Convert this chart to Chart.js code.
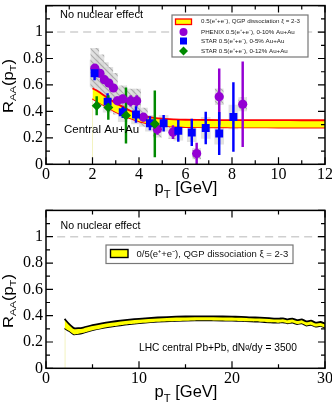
<!DOCTYPE html>
<html><head><meta charset="utf-8">
<script src="https://cdn.jsdelivr.net/npm/chart.js@4/dist/chart.umd.min.js"></script>
<style>
html,body{margin:0;padding:0;background:#fff;}
#wrap{position:relative;width:332px;height:402px;overflow:hidden;background:#fff;}
canvas{position:absolute;left:0;}
#c1{top:0;} #c2{top:200px;}
</style></head><body>
<div id="wrap"><canvas id="c1" width="332" height="200"></canvas><canvas id="c2" width="332" height="202"></canvas></div>
<script>
// ---------- Top panel (RHIC, central Au+Au) ----------
const phenixPt  = [2.1, 2.32, 2.51, 2.7, 2.9, 3.07, 3.3, 3.64, 3.9, 4.19, 4.79, 5.46, 6.48, 7.45, 8.46];
const phenixR   = [0.727, 0.688, 0.64, 0.614, 0.577, 0.48, 0.494, 0.479, 0.479, 0.356, 0.265, 0.243, 0.081, 0.511, 0.454];
const phenixErr = [0.02, 0.02, 0.02, 0.02, 0.02, 0.03, 0.03, 0.04, 0.04, 0.03, 0.04, 0.05, 0.08, 0.21, 0.32];
const phenixSys = [0.15, 0.14, 0.13, 0.12, 0.11, 0.1, 0.1, 0.09, 0.09, 0.07, 0.06, 0.05, 0.04, 0.06, 0.05];

const star5Pt   = [2.09, 2.65, 3.3, 3.87, 4.47, 5.06, 5.69, 6.27, 6.87, 7.45, 8.06];
const star5R    = [0.688, 0.474, 0.393, 0.376, 0.31, 0.31, 0.253, 0.241, 0.275, 0.233, 0.358];
const star5Err  = [0.05, 0.06, 0.04, 0.06, 0.05, 0.06, 0.08, 0.1, 0.12, 0.16, 0.26];
const star5Sys  = [0.1, 0.08, 0.07, 0.07, 0.06, 0.06, 0.07, 0.07, 0.08, 0.08, 0.09];

const star12Pt  = [2.18, 2.68, 3.44, 4.68];
const star12R   = [0.443, 0.43, 0.369, 0.305];
const star12Err = [0.07, 0.09, 0.21, 0.25];

const rhicBandPt = [2, 2.25, 2.5, 2.75, 3, 3.25, 3.5, 3.75, 4, 4.5, 5, 5.5, 6, 7, 8, 9, 10, 11, 12];
const rhicBandHi = [0.575, 0.55, 0.52, 0.49, 0.462, 0.44, 0.415, 0.395, 0.375, 0.355, 0.345, 0.34, 0.337, 0.335, 0.334, 0.334, 0.334, 0.333, 0.333];
const rhicBandLo = [0.495, 0.47, 0.445, 0.42, 0.395, 0.375, 0.355, 0.34, 0.325, 0.305, 0.292, 0.285, 0.282, 0.28, 0.279, 0.279, 0.278, 0.278, 0.278];

// ---------- Bottom panel (LHC, central Pb+Pb) ----------
const lhcBandPt = [2, 2.5, 3, 3.5, 4, 5, 6, 7, 8, 9, 10, 12, 14, 16, 18, 20, 21, 22, 23, 24, 25, 25.5, 26, 26.5, 27, 27.5, 28, 28.5, 29, 29.5, 30];
const lhcBandHi = [0.375, 0.335, 0.305, 0.305, 0.31, 0.328, 0.342, 0.353, 0.362, 0.37, 0.376, 0.386, 0.392, 0.395, 0.395, 0.392, 0.391, 0.387, 0.385, 0.381, 0.377, 0.38, 0.372, 0.378, 0.366, 0.372, 0.356, 0.362, 0.347, 0.352, 0.34];
const lhcBandLo = [0.305, 0.283, 0.258, 0.262, 0.27, 0.29, 0.305, 0.317, 0.327, 0.336, 0.343, 0.354, 0.36, 0.364, 0.364, 0.362, 0.36, 0.357, 0.354, 0.35, 0.347, 0.35, 0.342, 0.348, 0.336, 0.342, 0.325, 0.33, 0.317, 0.322, 0.31];

const yTickLabels = ['0', '0.2', '0.4', '0.6', '0.8', '1'];
const noEffect = 1;

const PURPLE = '#9400d3', BLUE = '#0000ff', GREEN = '#008a00';
const SERIF = "'Liberation Serif', 'Times New Roman', serif";
const SANS = "'Liberation Sans', Arial, sans-serif";

function hatch() {
  const c = document.createElement('canvas'); c.width = 6; c.height = 6;
  const g = c.getContext('2d');
  g.fillStyle = 'rgba(215,215,215,0.75)'; g.fillRect(0, 0, 6, 6);
  g.strokeStyle = 'rgba(160,160,160,0.8)'; g.lineWidth = 1.2;
  g.beginPath(); g.moveTo(0, 0); g.lineTo(6, 6); g.moveTo(-3, 3); g.lineTo(3, 9); g.moveTo(3, -3); g.lineTo(9, 3); g.stroke();
  return g.createPattern(c, 'repeat');
}
const HATCH = hatch();

const pts = (xs, ys) => xs.map((x, i) => ({x, y: ys[i]}));
const bars = (xs, ys, e) => xs.map((x, i) => ({x, y: [ys[i] - e[i], ys[i] + e[i]]}));

// draws text with subscripts; squeeze compresses glyph height (used for the rotated titles)
function drawRich(ctx, parts, x, y, size, rot, squeeze) {
  ctx.save();
  ctx.translate(x, y); if (rot) ctx.rotate(rot);
  if (squeeze) ctx.scale(1, squeeze);
  let w = 0;
  parts.forEach(p => { ctx.font = (p.s ? size * 0.68 : size) + 'px ' + SANS; w += ctx.measureText(p.t).width; });
  let cx = -w / 2;
  ctx.textBaseline = 'alphabetic'; ctx.fillStyle = '#000';
  parts.forEach(p => {
    ctx.font = (p.s ? size * 0.68 : size) + 'px ' + SANS;
    ctx.fillText(p.t, cx, p.s ? size * 0.28 : 0);
    cx += ctx.measureText(p.t).width;
  });
  ctx.restore();
}

function frame(chart, xStep, xMinor, yStep, yMinor) {
  const {ctx, chartArea: a, scales: {x, y}} = chart;
  ctx.save();
  ctx.strokeStyle = '#000';
  ctx.lineWidth = 1.2;
  ctx.beginPath();
  for (let v = x.min; v <= x.max + 1e-9; v += xMinor) {
    const px = x.getPixelForValue(v);
    const major = Math.abs(v / xStep - Math.round(v / xStep)) < 1e-6;
    const L = major ? 7 : 4;
    ctx.moveTo(px, a.bottom); ctx.lineTo(px, a.bottom - L);
    ctx.moveTo(px, a.top); ctx.lineTo(px, a.top + L);
  }
  for (let v = y.min; v <= y.max + 1e-9; v += yMinor) {
    const py = y.getPixelForValue(v);
    const major = Math.abs(v / yStep - Math.round(v / yStep)) < 1e-6;
    const L = major ? 7 : 4;
    ctx.moveTo(a.left, py); ctx.lineTo(a.left + L, py);
    ctx.moveTo(a.right, py); ctx.lineTo(a.right - L, py);
  }
  ctx.stroke();
  ctx.lineWidth = 1.5;
  ctx.strokeRect(a.left, a.top, a.right - a.left, a.bottom - a.top);
  ctx.restore();
}

function xAxis(max, step, h) {
  return {
    type: 'linear', min: 0, max: max, offset: false,
    grid: {display: false, drawTicks: false}, border: {display: false},
    ticks: {stepSize: step, color: '#000', font: {family: SERIF, size: 16}, padding: 1, maxRotation: 0, autoSkip: false},
    afterFit: s => { s.height = h; s.paddingLeft = 0; s.paddingRight = 0; }
  };
}
function yAxis() {
  return {
    type: 'linear', min: 0, max: 1.2,
    grid: {display: false, drawTicks: false}, border: {display: false},
    ticks: {stepSize: 0.2, color: '#000', font: {family: SERIF, size: 16}, padding: 3,
      callback: (v, i) => yTickLabels[i] !== undefined ? yTickLabels[i] : ''},
    afterFit: s => { s.width = 46; s.paddingTop = 0; s.paddingBottom = 0; }
  };
}

// ---------------- TOP CHART ----------------
const topDeco = {
  id: 'topDeco',
  afterDraw(chart) {
    const {ctx} = chart;
    frame(chart, 2, 1, 0.2, 0.1);
    ctx.save();
    ctx.fillStyle = '#000'; ctx.textBaseline = 'middle';
    ctx.font = '11px ' + SANS;
    ctx.fillText('No nuclear effect', 60, 15);
    ctx.font = '11.5px ' + SANS;
    ctx.fillText('Central Au+Au', 64, 130);
    // legend
    ctx.fillStyle = '#fff'; ctx.strokeStyle = '#777'; ctx.lineWidth = 1.2;
    ctx.fillRect(172, 15, 136, 42); ctx.strokeRect(172, 15, 136, 42);
    ctx.fillStyle = '#ffff00'; ctx.fillRect(175.5, 19, 16, 5.5);
    ctx.strokeStyle = '#ff0000'; ctx.lineWidth = 1.3; ctx.strokeRect(175.5, 19, 16, 5.5);
    ctx.fillStyle = PURPLE; ctx.beginPath(); ctx.arc(183.5, 32, 4, 0, 2 * Math.PI); ctx.fill();
    ctx.fillStyle = BLUE; ctx.fillRect(180, 37.5, 7, 7);
    ctx.fillStyle = GREEN; ctx.beginPath(); ctx.moveTo(183.5, 46.5); ctx.lineTo(188, 51); ctx.lineTo(183.5, 55.5); ctx.lineTo(179, 51); ctx.closePath(); ctx.fill();
    ctx.fillStyle = '#222'; ctx.font = '6.2px ' + SANS; ctx.textBaseline = 'middle';
    ctx.fillText('0.5(e\u207A+e\u207B), QGP dissociation \u03BE = 2-3', 201, 21.5);
    ctx.fillText('PHENIX 0.5(e\u207A+e\u207B), 0-10% Au+Au', 201, 32);
    ctx.fillText('STAR 0.5(e\u207A+e\u207B), 0-5% Au+Au', 201, 41.5);
    ctx.fillText('STAR 0.5(e\u207A+e\u207B), 0-12% Au+Au', 201, 51.5);
    ctx.restore();
    drawRich(ctx, [{t: 'p'}, {t: 'T', s: 1}, {t: ' [GeV]'}], 186, 193, 16.5, 0);
    drawRich(ctx, [{t: 'R'}, {t: 'AA', s: 1}, {t: '(p'}, {t: 'T', s: 1}, {t: ')'}], 12.5, 86, 16.5, -Math.PI / 2, 0.85);
  }
};

new Chart(document.getElementById('c1'), {
  type: 'line',
  data: {
    datasets: [
      // markers (on top)
      {type: 'scatter', label: 'STAR 0.5(e+e), 0-12% Au+Au', data: pts(star12Pt, star12R), pointStyle: 'rectRot', pointRadius: 5, backgroundColor: GREEN, borderColor: GREEN, borderWidth: 0, order: 1},
      {type: 'scatter', label: 'STAR 0.5(e+e), 0-5% Au+Au', data: pts(star5Pt, star5R), pointStyle: 'rect', pointRadius: 5.6, backgroundColor: BLUE, borderColor: BLUE, borderWidth: 0, order: 2},
      {type: 'scatter', label: 'PHENIX 0.5(e+e), 0-10% Au+Au', data: pts(phenixPt, phenixR), pointStyle: 'circle', pointRadius: 4.6, backgroundColor: PURPLE, borderColor: PURPLE, borderWidth: 0, order: 3},
      // error bars
      {type: 'bar', label: 'err12', data: bars(star12Pt, star12R, star12Err), backgroundColor: GREEN, barThickness: 1.8, grouped: false, order: 4},
      {type: 'bar', label: 'err5', data: bars(star5Pt, star5R, star5Err), backgroundColor: BLUE, barThickness: 1.8, grouped: false, order: 5},
      {type: 'bar', label: 'errP', data: bars(phenixPt, phenixR, phenixErr), backgroundColor: PURPLE, barThickness: 1.8, grouped: false, order: 6},
      // band
      {type: 'line', label: 'QGP dissociation hi', data: pts(rhicBandPt, rhicBandHi), borderColor: '#ff0000', borderWidth: 1.8, backgroundColor: '#ffff00', fill: '+1', pointRadius: 0, tension: 0.3, order: 7},
      {type: 'line', label: 'QGP dissociation lo', data: pts(rhicBandPt, rhicBandLo), borderColor: '#ff0000', borderWidth: 1.8, fill: false, pointRadius: 0, tension: 0.3, order: 8},
      // systematic boxes
      {type: 'bar', label: 'sysP', data: bars(phenixPt, phenixR, phenixSys), backgroundColor: HATCH, barThickness: 8, grouped: false, order: 9},
      {type: 'bar', label: 'sys5', data: bars(star5Pt, star5R, star5Sys), backgroundColor: 'rgba(205,205,205,0.6)', barThickness: 9, grouped: false, order: 10},
      // no nuclear effect
      {type: 'line', label: 'unity', data: [{x: 0.48, y: noEffect}, {x: 12, y: noEffect}], borderColor: '#cfcfcf', borderWidth: 1.5, borderDash: [8, 5], pointRadius: 0, fill: false, order: 11},
      {type: 'line', label: 'edge', data: [{x: 2, y: 0}, {x: 2, y: rhicBandLo[0]}], borderColor: '#f3f3c0', borderWidth: 1, pointRadius: 0, fill: false, order: 12}
    ]
  },
  options: {
    responsive: false, animation: false, devicePixelRatio: 1,
    layout: {padding: {top: 1.6, right: 7, left: 0, bottom: 0}},
    plugins: {legend: {display: false}, tooltip: {enabled: false}},
    scales: {x: xAxis(12, 2, 35.7), y: yAxis()}
  },
  plugins: [topDeco]
});

// ---------------- BOTTOM CHART ----------------
const botDeco = {
  id: 'botDeco',
  afterDraw(chart) {
    const {ctx} = chart;
    frame(chart, 10, 5, 0.2, 0.1);
    ctx.save();
    ctx.fillStyle = '#000'; ctx.textBaseline = 'middle';
    ctx.font = '10.6px ' + SANS;
    ctx.fillText('No nuclear effect', 60.5, 25.7);
    ctx.font = '10.2px ' + SANS;
    ctx.fillText('LHC central Pb+Pb, dN\u1D4D/dy = 3500', 139, 148);
    // legend
    ctx.fillStyle = '#fff'; ctx.strokeStyle = '#777'; ctx.lineWidth = 1.2;
    ctx.fillRect(106, 45, 187, 18.5); ctx.strokeRect(106, 45, 187, 18.5);
    ctx.fillStyle = '#ffff00'; ctx.fillRect(110.5, 49.5, 17.5, 8);
    ctx.strokeStyle = '#000'; ctx.lineWidth = 1.4; ctx.strokeRect(110.5, 49.5, 17.5, 8);
    ctx.fillStyle = '#111'; ctx.font = '9.5px ' + SANS;
    ctx.fillText('0/5(e\u207A+e\u207B), QGP dissociation \u03BE = 2-3', 136.5, 54);
    ctx.restore();
    drawRich(ctx, [{t: 'p'}, {t: 'T', s: 1}, {t: ' [GeV]'}], 186, 197, 16.5, 0);
    drawRich(ctx, [{t: 'R'}, {t: 'AA', s: 1}, {t: '(p'}, {t: 'T', s: 1}, {t: ')'}], 12.5, 101, 16.5, -Math.PI / 2, 0.85);
  }
};

new Chart(document.getElementById('c2'), {
  type: 'line',
  data: {
    datasets: [
      {type: 'line', label: 'QGP dissociation hi', data: pts(lhcBandPt, lhcBandHi), borderColor: '#000', borderWidth: 1.8, backgroundColor: '#ffff00', fill: '+1', pointRadius: 0, tension: 0.2, order: 1},
      {type: 'line', label: 'QGP dissociation lo', data: pts(lhcBandPt, lhcBandLo), borderColor: '#000', borderWidth: 1.8, fill: false, pointRadius: 0, tension: 0.2, order: 2},
      {type: 'line', label: 'unity', data: [{x: 1.2, y: noEffect}, {x: 30, y: noEffect}], borderColor: '#cfcfcf', borderWidth: 1.5, borderDash: [8, 5], pointRadius: 0, fill: false, order: 3},
      {type: 'line', label: 'edge', data: [{x: 2.05, y: 0}, {x: 2.05, y: lhcBandLo[0]}], borderColor: '#f3f3c0', borderWidth: 1, pointRadius: 0, fill: false, order: 4}
    ]
  },
  options: {
    responsive: false, animation: false, devicePixelRatio: 1,
    layout: {padding: {top: 10.4, right: 7, left: 0, bottom: 0}},
    plugins: {legend: {display: false}, tooltip: {enabled: false}},
    scales: {x: xAxis(30, 10, 33.7), y: yAxis()}
  },
  plugins: [botDeco]
});
</script>
</body></html>
